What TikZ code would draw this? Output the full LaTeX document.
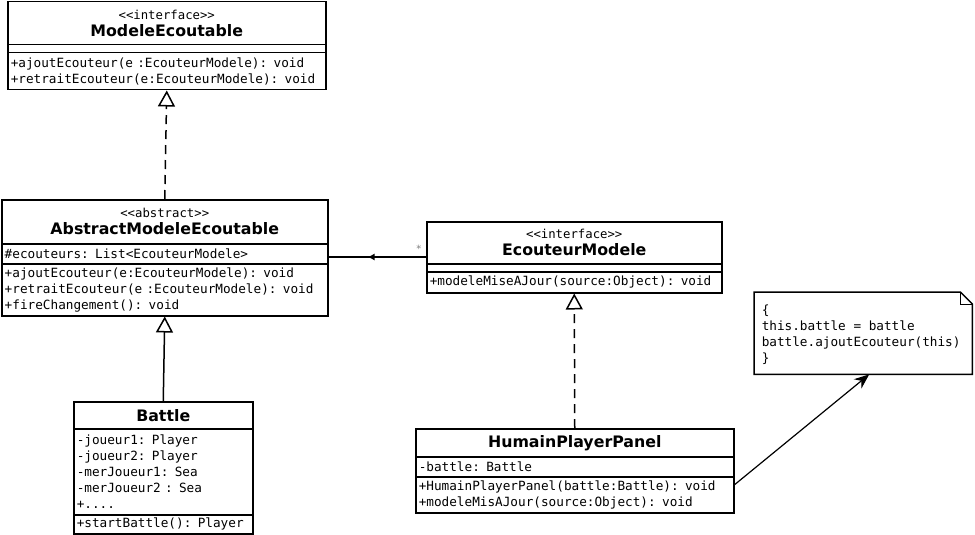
\documentclass[tikz,border=0pt]{standalone}
\usepackage{fontspec}
\setsansfont{DejaVu Sans}
\setmonofont{DejaVu Sans Mono}[WordSpace={1,0,0}]
\usetikzlibrary{arrows.meta,decorations.markings}
\newcommand\umlstereo[1]{{\ttfamily\mdseries\fontsize{12.3}{14}\selectfont<<#1>>}\\}
\begin{document}
\begin{tikzpicture}[x=1pt,y=-1pt,
  header/.style={draw,line width=1.5pt,anchor=north west,inner xsep=3pt,inner ysep=0pt,
    align=center,font=\sffamily\bfseries\fontsize{15.8}{17}\selectfont},
  member/.style={draw,line width=1.5pt,anchor=north west,inner xsep=3pt,inner ysep=0pt,
    align=left,font=\ttfamily\fontsize{12.7}{16}\selectfont},
  realize/.style={line width=1.5pt,dash pattern=on 9pt off 6pt,-{Triangle[open,length=16pt,width=17pt,line width=1.5pt]}},
  inherit/.style={line width=1.5pt,-{Triangle[open,length=16pt,width=17pt,line width=1.5pt]}},
  assoc/.style={line width=1.5pt,postaction={decorate},decoration={markings,
    mark=at position 0.6 with {\arrow{Latex[length=7pt,width=7pt]}}}},
  notelink/.style={line width=1.2pt,-{Stealth[length=15pt,width=12pt]}}]
  \useasboundingbox (0,0) rectangle (975,535);
  \node[header,text width=312pt,minimum height=43pt] (mename) at (7,1) {\umlstereo{interface}ModeleEcoutable};
  \node[member,text width=312pt,minimum height=8pt] (meattr) at (7,44) {};
  \node[member,text width=312pt,minimum height=37pt] (meops) at (7,52)
    {+ajoutEcouteur(e :EcouteurModele): void\\+retraitEcouteur(e:EcouteurModele): void};
  \node[header,text width=320pt,minimum height=44pt] (amename) at (1,199) {\umlstereo{abstract}AbstractModeleEcoutable};
  \node[member,text width=320pt,minimum height=20pt] (ameattr) at (1,243) {\#ecouteurs: List<EcouteurModele>};
  \node[member,text width=320pt,minimum height=52pt] (ameops) at (1,263)
    {+ajoutEcouteur(e:EcouteurModele): void\\+retraitEcouteur(e :EcouteurModele): void\\+fireChangement(): void};
  \node[header,text width=289pt,minimum height=42pt] (emname) at (426,221) {\umlstereo{interface}EcouteurModele};
  \node[member,text width=289pt,minimum height=8pt] (emattr) at (426,263) {};
  \node[member,text width=289pt,minimum height=21pt] (emops) at (426,271) {+modeleMiseAJour(source:Object): void};
  \node[header,text width=173pt,minimum height=27pt] (batname) at (73,401) {Battle};
  \node[member,text width=173pt,minimum height=86pt] (batattr) at (73,428)
    {-joueur1: Player\\-joueur2: Player\\-merJoueur1: Sea\\-merJoueur2 : Sea\\+....};
  \node[member,text width=173pt,minimum height=19pt] (batops) at (73,514) {+startBattle(): Player};
  \node[header,text width=312pt,minimum height=28pt] (hppname) at (415,428) {HumainPlayerPanel};
  \node[member,text width=312pt,minimum height=20pt] (hppattr) at (415,456) {-battle: Battle};
  \node[member,text width=312pt,minimum height=36pt] (hppops) at (415,476)
    {+HumainPlayerPanel(battle:Battle): void\\+modeleMisAJour(source:Object): void};
  \node[anchor=north west,inner sep=0pt,minimum width=218pt,minimum height=82pt] (note) at (754,292) {};
  \node[member,draw=none,anchor=north west] (notetext) at (758,304)
    {\{\\this.battle = battle\\battle.ajoutEcouteur(this)\\\}};
  \draw[line width=1.5pt] (note.north west) -- ([xshift=-12pt]note.north east) -- ([yshift=-12pt]note.north east)
    -- (note.south east) -- (note.south west) -- cycle;
  \draw[line width=0.8pt] ([xshift=-12pt]note.north east) |- ([yshift=-12pt]note.north east);
  \draw[realize] (amename.north) -- (meops.south);
  \draw[inherit] (batname.north) -- (ameops.south);
  \draw[realize] (hppname.north) -- (emops.south);
  \coordinate (assocend) at (426,257);
  \draw[assoc] (assocend) node[above left,font=\ttfamily\fontsize{10}{12}\selectfont,gray] {*}
    -- (assocend -| ameattr.east);
  \draw[notelink] ([yshift=10pt]hppops.east) -- ([xshift=6pt]note.south);
\end{tikzpicture}
\end{document}
